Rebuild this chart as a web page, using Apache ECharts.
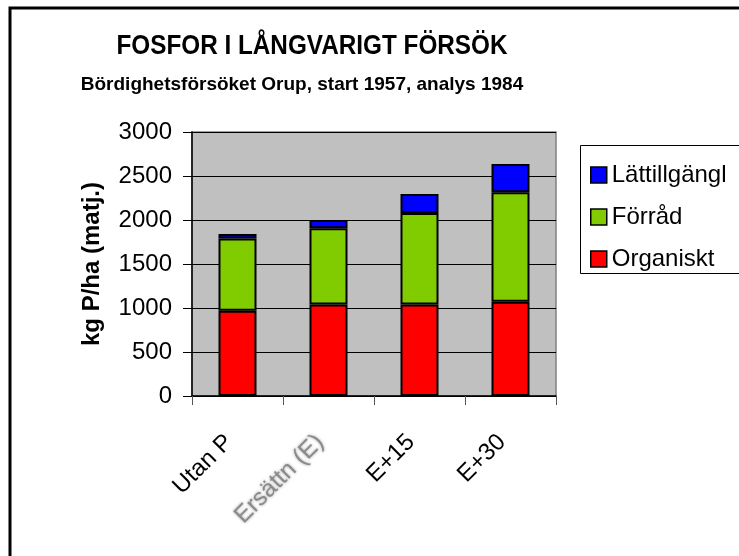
<!DOCTYPE html>
<html>
<head>
<meta charset="utf-8">
<script src="https://cdn.jsdelivr.net/npm/echarts@6/dist/echarts.min.js"></script>
<style>
  html, body { margin: 0; padding: 0; background: #fff; }
  #chart { width: 739px; height: 556px; }
</style>
</head>
<body>
<div id="chart"></div>
<script>
// data
var categories = ['Utan P', 'Ersättn (E)', 'E+15', 'E+30'];
var organiskt = [970, 1040, 1040, 1070];
var forrad = [820, 865, 1040, 1245];
var lattillgangl = [50, 95, 215, 320];
var yTicks = [0, 500, 1000, 1500, 2000, 2500, 3000];

var FONT = 'Liberation Sans, Arial, sans-serif';

var chart = echarts.init(document.getElementById('chart'), null, { renderer: 'canvas' });

// second label looks smeared in the original
var catData = categories.map(function (c, i) {
  if (i === 1) {
    return { value: c, textStyle: { color: '#8a8a8a', textShadowColor: '#999', textShadowBlur: 3 } };
  }
  return c;
});

function barSeries(name, data, color) {
  return {
    name: name,
    type: 'bar',
    stack: 'p',
    barWidth: 38,
    data: data,
    itemStyle: { color: color, borderColor: '#000', borderWidth: 2 },
    emphasis: { disabled: true }
  };
}

var option = {
  animation: false,
  backgroundColor: '#fff',
  textStyle: { fontFamily: FONT },
  grid: {
    left: 192, right: 183, top: 132, bottom: 160,
    show: true,
    backgroundColor: '#c0c0c0',
    borderColor: '#808080',
    borderWidth: 1.5
  },
  legend: {
    orient: 'vertical',
    left: 585,
    top: 158,
    itemWidth: 16,
    itemHeight: 16,
    itemGap: 18,
    data: ['Lättillgängl', 'Förråd', 'Organiskt'],
    icon: 'rect',
    itemStyle: { borderColor: '#000', borderWidth: 1.5 },
    textStyle: { fontFamily: FONT, fontSize: 24, color: '#000', lineHeight: 24 },
    selectedMode: false
  },
  xAxis: {
    type: 'category',
    data: catData,
    axisLine: { lineStyle: { color: '#000', width: 1.5 } },
    axisTick: { show: true, length: 9, lineStyle: { color: '#555' } },
    axisLabel: {
      rotate: 45,
      margin: 34,
      padding: [0, 12, 0, 0],
      fontSize: 24,
      fontFamily: FONT,
      color: '#000'
    }
  },
  yAxis: {
    type: 'value',
    min: yTicks[0],
    max: yTicks[yTicks.length - 1],
    interval: 500,
    name: 'kg P/ha (matj.)',
    nameLocation: 'middle',
    nameGap: 88,
    nameTextStyle: { fontFamily: FONT, fontSize: 24, fontWeight: 'bold', color: '#000' },
    axisLine: { show: true, lineStyle: { color: '#000', width: 1.5 } },
    axisTick: { show: true, length: 9, lineStyle: { color: '#000' } },
    axisLabel: {
      fontSize: 24, fontFamily: FONT, color: '#000', margin: 20,
      formatter: function (v) { return String(v); }
    },
    splitLine: { show: true, lineStyle: { color: '#000', width: 1 } }
  },
  series: [
    barSeries('Organiskt', organiskt, '#ff0000'),
    barSeries('Förråd', forrad, '#80cc00'),
    barSeries('Lättillgängl', lattillgangl, '#0000ff')
  ],
  graphic: [
    {
      type: 'rect',
      silent: true,
      shape: { x: 10, y: 8, width: 900, height: 700 },
      style: { fill: null, stroke: '#000', lineWidth: 3 }
    },
    {
      type: 'rect',
      silent: true,
      shape: { x: 580.5, y: 145.5, width: 200, height: 128 },
      style: { fill: null, stroke: '#000', lineWidth: 1 }
    },
    {
      type: 'text',
      silent: true,
      x: 312, y: 47,
      scaleX: 0.9,
      style: {
        x: 0, y: 0,
        text: 'FOSFOR I LÅNGVARIGT FÖRSÖK',
        textAlign: 'center', textVerticalAlign: 'middle',
        fontFamily: FONT, fontSize: 27, fontWeight: 'bold', fill: '#000'
      }
    },
    {
      type: 'text',
      silent: true,
      style: {
        x: 302, y: 85,
        text: 'Bördighetsförsöket Orup, start 1957, analys 1984',
        textAlign: 'center', textVerticalAlign: 'middle',
        fontFamily: FONT, fontSize: 19, fontWeight: 'bold', fill: '#000'
      }
    }
  ]
};

chart.setOption(option);
</script>
</body>
</html>
